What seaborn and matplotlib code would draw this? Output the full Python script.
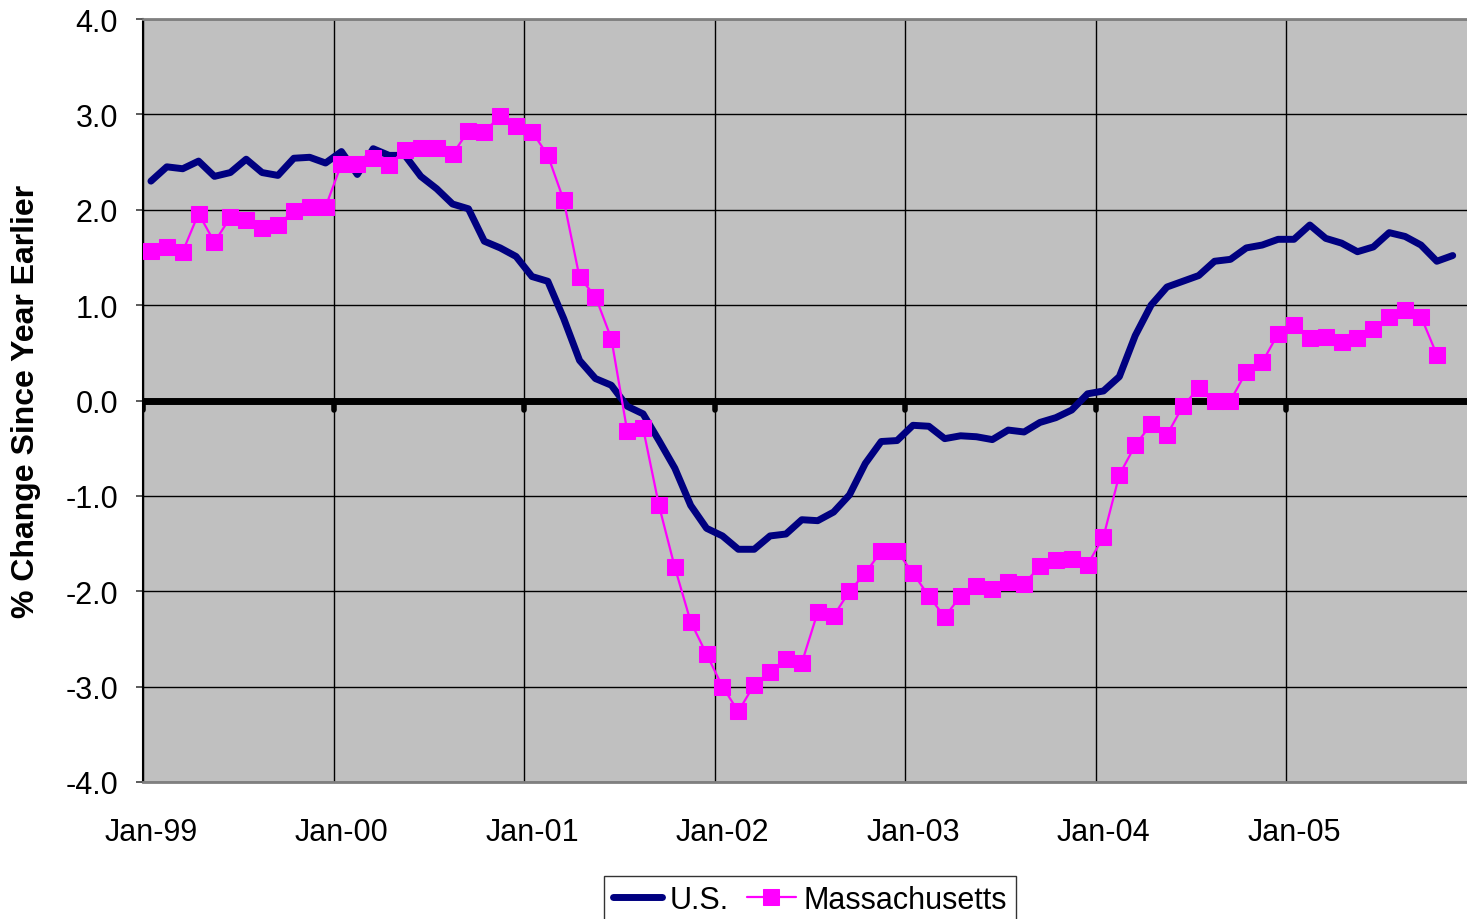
## for data
import pandas as pd
import numpy as np
## for plotting
import matplotlib
matplotlib.use("Agg")
import matplotlib.pyplot as plt
import seaborn as sns

### data: monthly % change since year earlier, Jan-99 onwards
us_values = [2.30, 2.45, 2.43, 2.51, 2.35, 2.39, 2.53, 2.39, 2.36, 2.54, 2.55, 2.49,
             2.61, 2.37, 2.64, 2.57, 2.57, 2.35, 2.22, 2.06, 2.01, 1.67, 1.60, 1.51,
             1.30, 1.25, 0.86, 0.42, 0.23, 0.16, -0.06, -0.14, -0.42, -0.71, -1.10, -1.34,
             -1.42, -1.56, -1.56, -1.42, -1.40, -1.25, -1.26, -1.17, -0.99, -0.66, -0.43, -0.42,
             -0.26, -0.27, -0.40, -0.37, -0.38, -0.41, -0.31, -0.33, -0.23, -0.18, -0.10, 0.07,
             0.10, 0.25, 0.68, 1.00, 1.19, 1.25, 1.31, 1.46, 1.48, 1.60, 1.63, 1.69,
             1.69, 1.84, 1.70, 1.65, 1.56, 1.61, 1.76, 1.72, 1.63, 1.46, 1.52]
ma_values = [1.57, 1.61, 1.56, 1.96, 1.66, 1.92, 1.89, 1.81, 1.84, 1.99, 2.03, 2.03,
             2.48, 2.48, 2.54, 2.47, 2.63, 2.65, 2.65, 2.58, 2.83, 2.82, 2.98, 2.88,
             2.82, 2.57, 2.10, 1.29, 1.09, 0.65, -0.32, -0.29, -1.10, -1.75, -2.32, -2.66,
             -3.00, -3.26, -2.98, -2.85, -2.71, -2.75, -2.22, -2.26, -2.00, -1.81, -1.58, -1.58,
             -1.81, -2.05, -2.27, -2.05, -1.94, -1.98, -1.90, -1.92, -1.74, -1.67, -1.66, -1.72,
             -1.43, -0.78, -0.47, -0.25, -0.36, -0.06, 0.13, 0.00, 0.00, 0.30, 0.40, 0.70,
             0.79, 0.66, 0.67, 0.61, 0.66, 0.75, 0.88, 0.95, 0.88, 0.48]
year_labels = ["Jan-99", "Jan-00", "Jan-01", "Jan-02", "Jan-03", "Jan-04", "Jan-05"]
y_ticks = [-4.0, -3.0, -2.0, -1.0, 0.0, 1.0, 2.0, 3.0, 4.0]

dtf_us = pd.DataFrame({"month": np.arange(len(us_values)), "value": us_values})
dtf_ma = pd.DataFrame({"month": np.arange(len(ma_values)), "value": ma_values})
jan_pos = np.arange(len(year_labels)) * 12

sns.set_style("white", {"axes.facecolor": "#C0C0C0"})
plt.rcParams["font.family"] = ["Liberation Sans", "DejaVu Sans"]
plt.rcParams["axes.unicode_minus"] = False
plt.rcParams["text.color"] = "black"
plt.rcParams["axes.labelcolor"] = "black"
plt.rcParams["xtick.color"] = "black"
plt.rcParams["ytick.color"] = "black"

fig = plt.figure(figsize=(14.67, 9.2), dpi=100)
ax = fig.add_axes([143 / 1467, 1 - 783 / 920, 1 - 143 / 1467, 763 / 920])

### series
sns.lineplot(data=dtf_us, x="month", y="value", color="#000080", linewidth=5,
             label="U.S.", ax=ax, zorder=4)
sns.lineplot(data=dtf_ma, x="month", y="value", color="#FF00FF", linewidth=1.6,
             marker="s", markersize=11, markeredgecolor="#FF00FF",
             label="Massachusetts", ax=ax, zorder=5)

### zero line with stub ticks
ax.axhline(0, color="black", lw=5, zorder=3)
ax.vlines(jan_pos - 0.5, -0.1, 0, color="black", lw=4, capstyle="round", zorder=3)

### axes
ax.set_xlim(-0.5, 82.9)
ax.set_ylim(-4, 4)
ax.set_xticks(jan_pos - 0.5)
ax.set_xticklabels([])
ax.set_xticks(jan_pos, minor=True)
ax.set_xticklabels(year_labels, minor=True, fontsize=22)
ax.tick_params(axis="x", which="both", length=0)
ax.tick_params(axis="x", which="minor", pad=25)
ax.set_yticks(y_ticks)
ax.set_yticklabels(["%.1f" % v for v in y_ticks], fontsize=22)
ax.tick_params(axis="y", length=5, width=1.2, color="#404040", labelcolor="black", pad=13, left=True)
ax.grid(True, which="major", color="black", lw=1)
ax.set_axisbelow(True)
ax.set_xlabel("")
ax.set_ylabel("% Change Since Year Earlier", fontsize=23, fontweight="bold")
ax.yaxis.set_label_coords(-0.077, 0.5)

for s in ["top", "bottom"]:
    ax.spines[s].set_color("#808080")
    ax.spines[s].set_linewidth(2)
ax.spines["left"].set_color("black")
ax.spines["left"].set_linewidth(1.5)
ax.spines["right"].set_visible(False)

### legend
ax.get_legend().remove()
h, l = ax.get_legend_handles_labels()
leg = fig.legend(h, l, loc="upper center", bbox_to_anchor=(0.552, 0.047), ncol=2,
                 fontsize=22, frameon=True, fancybox=False, handlelength=1.6,
                 handletextpad=0.25, columnspacing=0.6, borderpad=0.3, borderaxespad=0)
leg.get_frame().set_edgecolor("black")
leg.get_frame().set_linewidth(1)
leg.get_frame().set_facecolor("white")

fig.savefig("out.png", dpi=100)
